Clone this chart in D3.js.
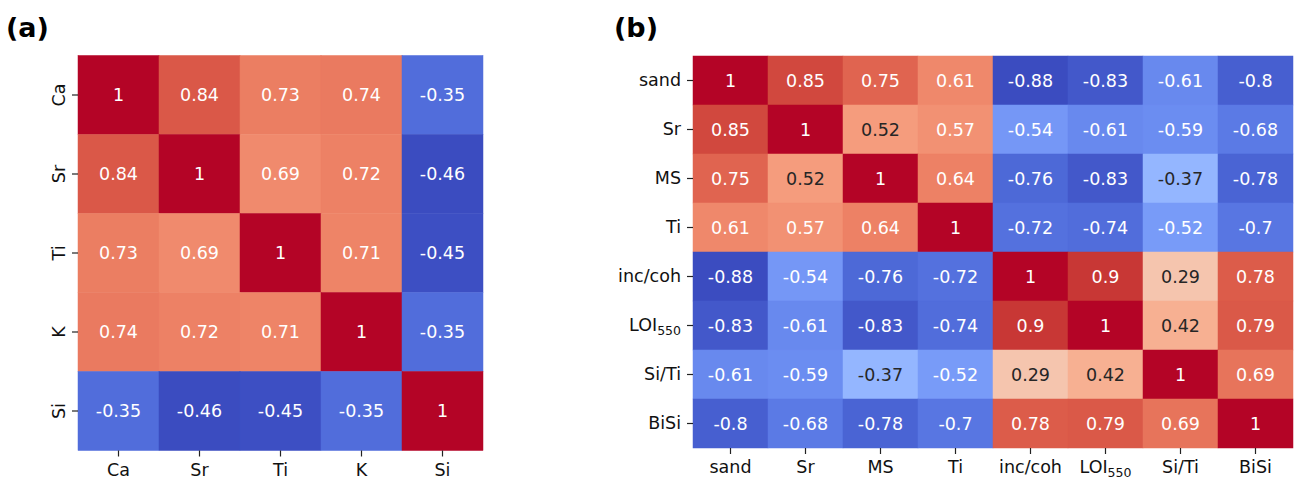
<!DOCTYPE html>
<html>
<head>
<meta charset="utf-8">
<script src="https://cdn.jsdelivr.net/npm/d3@7"></script>
<style>
  html, body { margin: 0; padding: 0; background: #fff; }
  svg { display: block; }
  text { font-family: "DejaVu Sans", sans-serif; }
</style>
</head>
<body>
<svg id="fig" width="1298" height="483"></svg>
<script>
// Panel (a): XRF element correlations
const varsA = ["Ca", "Sr", "Ti", "K", "Si"];
const corrA = [
  [1, 0.84, 0.73, 0.74, -0.35],
  [0.84, 1, 0.69, 0.72, -0.46],
  [0.73, 0.69, 1, 0.71, -0.45],
  [0.74, 0.72, 0.71, 1, -0.35],
  [-0.35, -0.46, -0.45, -0.35, 1]
];

// Panel (b): proxy correlations
const varsB = ["sand", "Sr", "MS", "Ti", "inc/coh", "LOI550", "Si/Ti", "BiSi"];
const corrB = [
  [1, 0.85, 0.75, 0.61, -0.88, -0.83, -0.61, -0.8],
  [0.85, 1, 0.52, 0.57, -0.54, -0.61, -0.59, -0.68],
  [0.75, 0.52, 1, 0.64, -0.76, -0.83, -0.37, -0.78],
  [0.61, 0.57, 0.64, 1, -0.72, -0.74, -0.52, -0.7],
  [-0.88, -0.54, -0.76, -0.72, 1, 0.9, 0.29, 0.78],
  [-0.83, -0.61, -0.83, -0.74, 0.9, 1, 0.42, 0.79],
  [-0.61, -0.59, -0.37, -0.52, 0.29, 0.42, 1, 0.69],
  [-0.8, -0.68, -0.78, -0.7, 0.78, 0.79, 0.69, 1]
];

// Diverging "coolwarm" colour ramp (Moreland), 33 control points
const coolwarmStops = [
  [59,76,192],[68,90,204],[77,104,215],[87,117,225],[98,130,234],[108,142,241],
  [119,154,247],[130,165,251],[141,176,254],[152,185,255],[163,194,255],[174,201,253],
  [184,208,249],[194,213,244],[204,217,238],[213,219,230],[221,221,221],[229,216,209],
  [236,211,197],[241,204,185],[245,196,173],[247,187,160],[247,177,148],[247,166,135],
  [244,154,123],[241,141,111],[236,127,99],[229,112,88],[222,96,77],[213,80,66],
  [203,62,56],[192,40,47],[180,4,38]
];
const coolwarm = d3.interpolateRgbBasis
  ? d3.piecewise(d3.interpolateRgb, coolwarmStops.map(c => d3.rgb(c[0], c[1], c[2])))
  : null;

function luminance(col) {
  const c = d3.rgb(col);
  const lin = v => { v /= 255; return v <= 0.03928 ? v / 12.92 : Math.pow((v + 0.055) / 1.055, 2.4); };
  return 0.2126 * lin(c.r) + 0.7152 * lin(c.g) + 0.0722 * lin(c.b);
}

const svg = d3.select("#fig");

function fmt(v) {
  return String(+v.toFixed(2));
}

function addLabel(sel, name) {
  // subscript for LOI550
  if (name === "LOI550") {
    sel.text(null);
    sel.append("tspan").text("LOI");
    sel.append("tspan").attr("font-size", "12.5px").attr("dy", "0.28em").text("550");
  } else {
    sel.text(name);
  }
}

function heatmap(opts) {
  const { vars, corr, x0, x1, y0, y1, rotateY, title, titleX } = opts;
  const flat = corr.flat();
  const color = d3.scaleSequential(coolwarm).domain([d3.min(flat), d3.max(flat)]);
  const x = d3.scaleBand().domain(vars).range([x0, x1]);
  const y = d3.scaleBand().domain(vars).range([y0, y1]);

  const g = svg.append("g");
  const cells = [];
  corr.forEach((row, i) => row.forEach((v, j) => cells.push({ r: vars[i], c: vars[j], v })));

  g.selectAll("rect.cell").data(cells).join("rect")
    .attr("class", "cell")
    .attr("x", d => x(d.c))
    .attr("y", d => y(d.r))
    .attr("width", x.bandwidth())
    .attr("height", y.bandwidth())
    .attr("fill", d => color(d.v))
    .attr("stroke", d => color(d.v))
    .attr("stroke-width", 0.5);

  g.selectAll("text.annot").data(cells).join("text")
    .attr("class", "annot")
    .attr("x", d => x(d.c) + x.bandwidth() / 2)
    .attr("y", d => y(d.r) + y.bandwidth() / 2)
    .attr("text-anchor", "middle")
    .attr("dominant-baseline", "central")
    .attr("font-size", "17.5px")
    .attr("fill", d => luminance(color(d.v)) > 0.408 ? "#262626" : "#ffffff")
    .text(d => fmt(d.v));

  // bottom axis
  const ax = g.append("g")
    .attr("transform", `translate(0,${y1})`)
    .call(d3.axisBottom(x).tickSize(6).tickPadding(7));
  ax.select(".domain").remove();
  ax.selectAll(".tick line").attr("stroke", "#222").attr("stroke-width", 1.2);
  ax.selectAll(".tick text")
    .attr("font-size", "17.5px")
    .attr("fill", "#111")
    .attr("font-family", "DejaVu Sans")
    .each(function (d) { addLabel(d3.select(this), d); });

  // left axis
  const ay = g.append("g")
    .attr("transform", `translate(${x0},0)`)
    .call(d3.axisLeft(y).tickSize(6).tickPadding(6));
  ay.select(".domain").remove();
  ay.selectAll(".tick line").attr("stroke", "#222").attr("stroke-width", 1.2);
  ay.selectAll(".tick text")
    .attr("font-size", "17.5px")
    .attr("fill", "#111")
    .attr("font-family", "DejaVu Sans")
    .each(function (d) { addLabel(d3.select(this), d); });
  if (rotateY) {
    ay.selectAll(".tick text")
      .attr("text-anchor", "middle")
      .attr("x", 0)
      .attr("dy", 0)
      .attr("transform", "translate(-19,0) rotate(-90)")
      .attr("dominant-baseline", "central");
  }

  // panel letter
  svg.append("text")
    .attr("x", titleX)
    .attr("y", 37)
    .attr("font-family", "DejaVu Sans")
    .attr("font-weight", "bold")
    .attr("font-size", "27px")
    .attr("fill", "#000")
    .text(title);
}

heatmap({ vars: varsA, corr: corrA, x0: 78, x1: 483, y0: 55.5, y1: 450.5, rotateY: true, title: "(a)", titleX: 6 });
heatmap({ vars: varsB, corr: corrB, x0: 693, x1: 1293, y0: 56, y1: 448, rotateY: false, title: "(b)", titleX: 614 });
</script>
</body>
</html>
